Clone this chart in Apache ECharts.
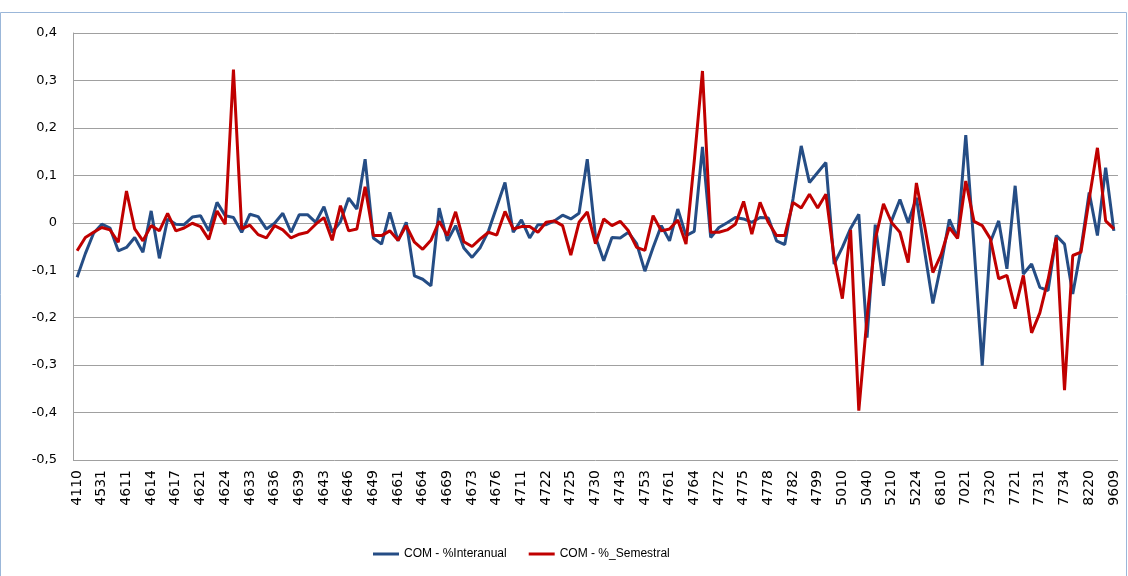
<!DOCTYPE html>
<html>
<head>
<meta charset="utf-8">
<script src="https://cdn.jsdelivr.net/npm/echarts@6/dist/echarts.min.js"></script>
<style>
html,body{margin:0;padding:0;background:#fff;}
#chart{width:1128px;height:576px;}
</style>
</head>
<body>
<div id="chart"></div>
<script>
var categories = [
	'4110','4321','4399','4531','4532','4610','4611','4612','4613','4614',
	'4615','4616','4617','4618','4619','4621','4622','4623','4624','4631',
	'4632','4633','4634','4635','4636','4637','4638','4639','4641','4642',
	'4643','4644','4645','4646','4647','4648','4649','4651','4652','4661',
	'4662','4663','4664','4665','4666','4669','4671','4672','4673','4674',
	'4675','4676','4677','4690','4711','4719','4721','4722','4723','4724',
	'4725','4726','4729','4730','4732','4741','4743','4751','4752','4753',
	'4754','4759','4761','4762','4763','4764','4765','4771','4772','4773',
	'4774','4775','4776','4777','4778','4779','4781','4782','4789','4791',
	'4799','4910','4941','5010','5020','5030','5040','5110','5121','5210',
	'5221','5222','5224','5229','6619','6810','6820','6831','7021','7022',
	'7311','7320','7410','7712','7721','7722','7729','7731','7732','7733',
	'7734','7739','8211','8220','8230','8299','9609'
];

var interanual = [
	-0.115,-0.065,-0.022,-0.003,-0.011,-0.059,-0.052,-0.031,-0.062,0.025,
	-0.075,0.008,-0.003,-0.004,0.012,0.015,-0.017,0.043,0.015,0.011,
	-0.02,0.018,0.013,-0.013,-0.001,0.02,-0.02,0.017,0.017,0.001,
	0.034,-0.02,0.002,0.052,0.029,0.134,-0.032,-0.045,0.022,-0.038,
	0.001,-0.112,-0.119,-0.133,0.031,-0.038,-0.006,-0.053,-0.073,-0.052,
	-0.017,0.034,0.085,-0.02,0.006,-0.032,-0.004,-0.004,0.004,0.016,
	0.008,0.02,0.134,-0.03,-0.08,-0.031,-0.032,-0.02,-0.044,-0.102,
	-0.052,-0.006,-0.038,0.029,-0.027,-0.018,0.16,-0.031,-0.01,0.0,
	0.011,0.008,0.001,0.011,0.01,-0.038,-0.046,0.05,0.162,0.085,
	0.106,0.127,-0.087,-0.052,-0.012,0.018,-0.242,-0.004,-0.133,0.005,
	0.049,0.0,0.053,-0.06,-0.17,-0.088,0.007,-0.032,0.185,-0.05,
	-0.301,-0.04,0.004,-0.097,0.078,-0.108,-0.087,-0.136,-0.143,-0.027,
	-0.045,-0.15,-0.055,0.064,-0.027,0.116,-0.017
];

var semestral = [
	-0.059,-0.031,-0.02,-0.01,-0.015,-0.041,0.067,-0.013,-0.038,-0.006,
	-0.017,0.02,-0.017,-0.011,-0.001,-0.008,-0.035,0.025,-0.003,0.323,
	-0.013,-0.005,-0.025,-0.032,-0.006,-0.015,-0.032,-0.024,-0.02,-0.003,
	0.011,-0.037,0.036,-0.017,-0.013,0.076,-0.027,-0.027,-0.017,-0.037,
	-0.006,-0.041,-0.056,-0.037,0.003,-0.027,0.023,-0.04,-0.05,-0.034,
	-0.02,-0.026,0.024,-0.013,-0.008,-0.008,-0.02,0.001,0.004,-0.006,
	-0.068,0.001,0.023,-0.044,0.008,-0.006,0.003,-0.017,-0.052,-0.058,
	0.015,-0.017,-0.013,0.006,-0.045,0.13,0.32,-0.02,-0.02,-0.015,
	-0.003,0.045,-0.024,0.043,0.001,-0.027,-0.027,0.043,0.031,0.06,
	0.031,0.06,-0.073,-0.16,-0.015,-0.396,-0.2,-0.035,0.04,0.0,
	-0.02,-0.084,0.084,-0.007,-0.105,-0.067,-0.01,-0.033,0.088,0.003,
	-0.006,-0.034,-0.118,-0.111,-0.181,-0.111,-0.232,-0.19,-0.12,-0.031,
	-0.353,-0.069,-0.062,0.05,0.158,0.004,-0.013
];

var seriesNames = ['COM - %Interanual', 'COM - %_Semestral'];
var colors = ['#254d85', '#c00000'];

var chart = echarts.init(document.getElementById('chart'));

var font = 'DejaVu Sans, Verdana, sans-serif';
var legendFont = 'Liberation Sans, Arial, sans-serif';

chart.setOption({
	animation: false,
	color: colors,
	textStyle: {fontFamily: font},
	// thin chart-area border like the Excel frame
	graphic: [{
		type: 'rect',
		shape: {x: 0.5, y: 12.5, width: 1126, height: 570},
		style: {fill: 'none', stroke: '#9bb7d9', lineWidth: 1},
		silent: true
	}],
	grid: {left: 73, right: 10, top: 33, bottom: 116, containLabel: false},
	legend: {
		left: 368,
		top: 543,
		icon: 'rect',
		itemWidth: 26,
		itemHeight: 3,
		itemGap: 22,
		textStyle: {fontSize: 12, color: '#000', fontFamily: legendFont},
		data: seriesNames
	},
	xAxis: {
		type: 'category',
		boundaryGap: true,
		data: categories,
		axisLine: {show: true, lineStyle: {color: '#a0a0a0'}},
		axisTick: {show: false},
		axisLabel: {
			interval: 2,
			rotate: 90,
			fontSize: 14,
			color: '#000',
			margin: 10,
			fontFamily: font
		},
		splitLine: {show: false}
	},
	yAxis: {
		type: 'value',
		min: -0.5,
		max: 0.4,
		interval: 0.1,
		axisLine: {show: true, lineStyle: {color: '#a0a0a0'}},
		axisTick: {show: false},
		axisLabel: {
			fontSize: 13,
			color: '#000',
			margin: 16,
			fontFamily: font,
			formatter: function(v) {
				if (Math.abs(v) < 1e-9) return '0';
				return v.toFixed(1).replace('.', ',');
			}
		},
		splitLine: {show: true, lineStyle: {color: '#a0a0a0', width: 1}}
	},
	series: [
		{
			name: seriesNames[0],
			type: 'line',
			data: interanual,
			symbol: 'none',
			lineStyle: {width: 3, color: colors[0]}
		},
		{
			name: seriesNames[1],
			type: 'line',
			data: semestral,
			symbol: 'none',
			lineStyle: {width: 3, color: colors[1]}
		}
	]
});
</script>
</body>
</html>
